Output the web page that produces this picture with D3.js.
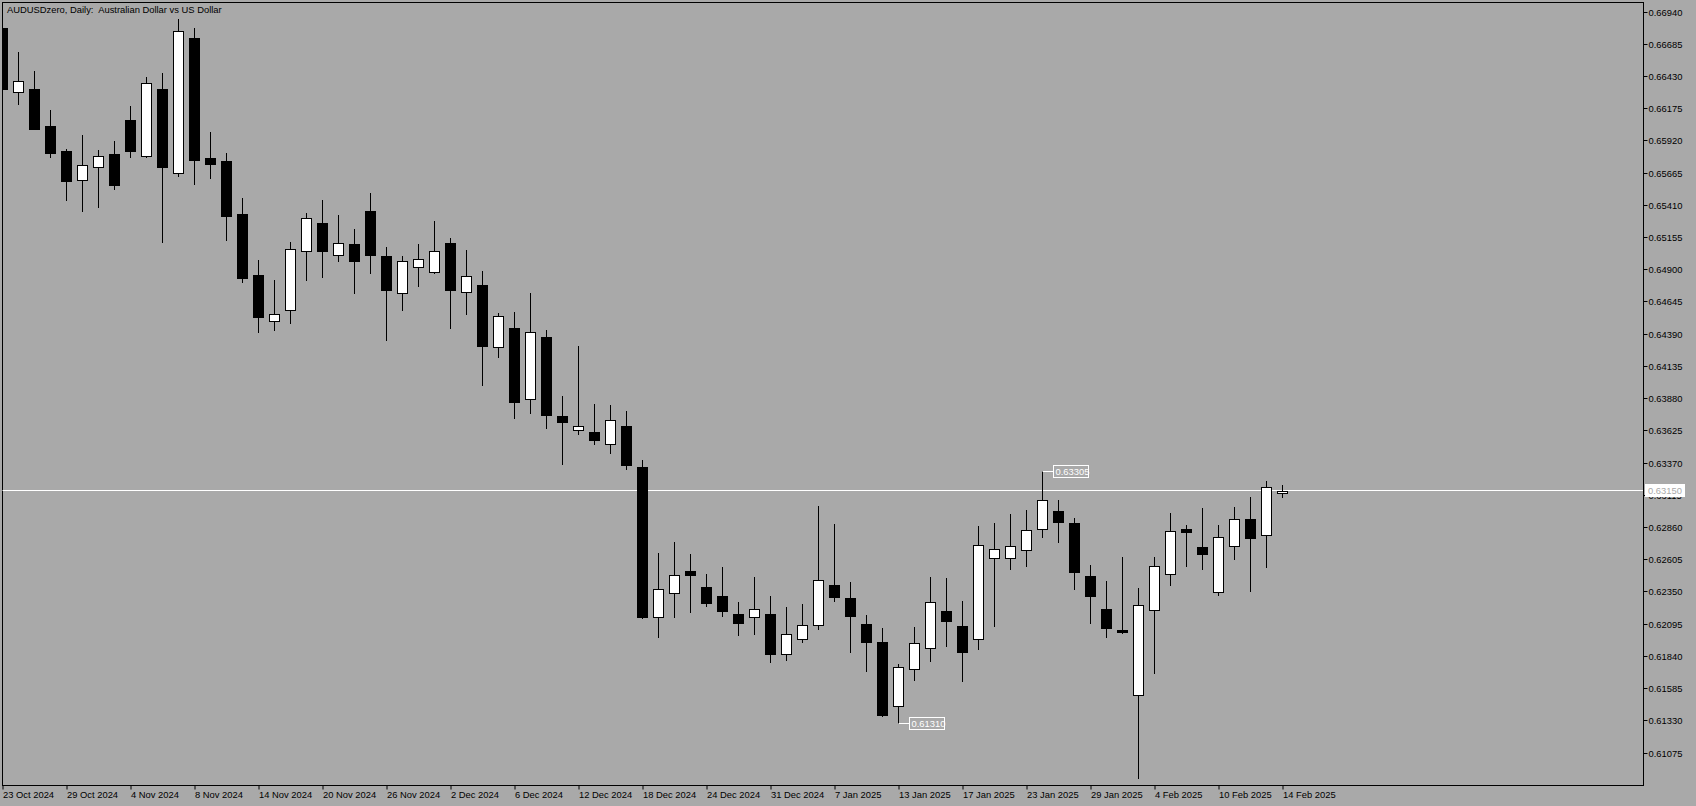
<!DOCTYPE html>
<html><head><meta charset="utf-8">
<script src="https://cdn.jsdelivr.net/npm/d3@7"></script>
<style>
html,body{margin:0;padding:0;background:#a9a9a9;overflow:hidden}
svg{display:block}
text{font-family:"Liberation Sans",Arial,sans-serif;font-size:9.4px}
</style></head><body>
<svg id="c" width="1696" height="806"></svg>
<script>
const dates = ["2024-10-23","2024-10-24","2024-10-25","2024-10-28","2024-10-29","2024-10-30","2024-10-31","2024-11-01","2024-11-04","2024-11-05","2024-11-06","2024-11-07","2024-11-08","2024-11-11","2024-11-12","2024-11-13","2024-11-14","2024-11-15","2024-11-18","2024-11-19","2024-11-20","2024-11-21","2024-11-22","2024-11-25","2024-11-26","2024-11-27","2024-11-28","2024-11-29","2024-12-02","2024-12-03","2024-12-04","2024-12-05","2024-12-06","2024-12-09","2024-12-10","2024-12-11","2024-12-12","2024-12-13","2024-12-16","2024-12-17","2024-12-18","2024-12-19","2024-12-20","2024-12-23","2024-12-24","2024-12-26","2024-12-27","2024-12-30","2024-12-31","2025-01-02","2025-01-03","2025-01-06","2025-01-07","2025-01-08","2025-01-09","2025-01-10","2025-01-13","2025-01-14","2025-01-15","2025-01-16","2025-01-17","2025-01-20","2025-01-21","2025-01-22","2025-01-23","2025-01-24","2025-01-27","2025-01-28","2025-01-29","2025-01-30","2025-01-31","2025-02-03","2025-02-04","2025-02-05","2025-02-06","2025-02-07","2025-02-10","2025-02-11","2025-02-12","2025-02-13","2025-02-14"];

const open  = [0.66811,0.66305,0.66331,0.66038,0.65840,0.65609,0.65711,0.65817,0.66086,0.65798,0.66331,0.65669,0.66734,0.65783,0.65761,0.65342,0.64859,0.64493,0.64580,0.65047,0.65271,0.65015,0.65105,0.65366,0.65010,0.64713,0.64920,0.64885,0.65113,0.64722,0.64780,0.64287,0.64440,0.63876,0.64369,0.63744,0.63631,0.63617,0.63518,0.63665,0.63340,0.62148,0.62341,0.62518,0.62391,0.62320,0.62177,0.62148,0.62177,0.61857,0.61977,0.62088,0.62404,0.62304,0.62098,0.61956,0.61447,0.61737,0.61906,0.62201,0.62082,0.61974,0.62615,0.62615,0.62681,0.62847,0.62992,0.62897,0.62478,0.62217,0.62051,0.61534,0.62203,0.62491,0.62847,0.62705,0.62349,0.62713,0.62929,0.62800,0.63132];
const high  = [0.66829,0.66624,0.66473,0.66165,0.65856,0.65967,0.65848,0.65919,0.66196,0.66426,0.66457,0.66885,0.66813,0.65991,0.65822,0.65469,0.64978,0.64820,0.65120,0.65350,0.65453,0.65334,0.65223,0.65510,0.65081,0.65010,0.65105,0.65287,0.65152,0.65057,0.64891,0.64556,0.64567,0.64717,0.64424,0.63902,0.64298,0.63839,0.63831,0.63783,0.63396,0.62660,0.62745,0.62654,0.62494,0.62549,0.62267,0.62470,0.62320,0.62233,0.62257,0.63032,0.62889,0.62431,0.62169,0.62067,0.61782,0.62075,0.62470,0.62462,0.62280,0.62874,0.62897,0.62963,0.63000,0.63305,0.63079,0.62934,0.62563,0.62438,0.62628,0.62383,0.62628,0.62976,0.62882,0.63016,0.62882,0.63024,0.63103,0.63230,0.63198];
const low   = [0.66307,0.66215,0.66010,0.65795,0.65453,0.65368,0.65400,0.65542,0.65795,0.65790,0.65123,0.65645,0.65582,0.65629,0.65139,0.64806,0.64411,0.64424,0.64482,0.64822,0.64846,0.64972,0.64719,0.64878,0.64340,0.64585,0.64775,0.64878,0.64435,0.64553,0.63989,0.64213,0.63730,0.63770,0.63651,0.63366,0.63596,0.63517,0.63453,0.63321,0.62140,0.61990,0.62148,0.62188,0.62235,0.62156,0.62006,0.62014,0.61792,0.61808,0.61950,0.62056,0.62275,0.61871,0.61721,0.61370,0.61310,0.61655,0.61806,0.61919,0.61642,0.61895,0.62077,0.62528,0.62552,0.62783,0.62749,0.62370,0.62101,0.61990,0.62022,0.60878,0.61705,0.62401,0.62552,0.62528,0.62322,0.62607,0.62354,0.62544,0.63105];
const close = [0.66333,0.66394,0.66017,0.65827,0.65605,0.65730,0.65798,0.65574,0.65843,0.66376,0.65716,0.66787,0.65772,0.65740,0.65328,0.64838,0.64529,0.64551,0.65065,0.65308,0.65052,0.65110,0.64972,0.65020,0.64743,0.64968,0.64986,0.65049,0.64743,0.64851,0.64300,0.64535,0.63857,0.64406,0.63754,0.63691,0.63662,0.63556,0.63711,0.63351,0.62148,0.62373,0.62484,0.62480,0.62259,0.62196,0.62101,0.62215,0.61855,0.62017,0.62088,0.62446,0.62309,0.62156,0.61950,0.61373,0.61756,0.61948,0.62270,0.62116,0.61871,0.62721,0.62689,0.62715,0.62840,0.63077,0.62900,0.62504,0.62314,0.62061,0.62035,0.62246,0.62555,0.62834,0.62821,0.62647,0.62784,0.62927,0.62773,0.63180,0.63150];

const yTicks = [0.66940,0.66685,0.66430,0.66175,0.65920,0.65665,0.65410,0.65155,0.64900,0.64645,0.64390,0.64135,0.63880,0.63625,0.63370,0.63115,0.62860,0.62605,0.62350,0.62095,0.61840,0.61585,0.61330,0.61075];
const xTickLabels = ["23 Oct 2024","29 Oct 2024","4 Nov 2024","8 Nov 2024","14 Nov 2024","20 Nov 2024","26 Nov 2024","2 Dec 2024","6 Dec 2024","12 Dec 2024","18 Dec 2024","24 Dec 2024","31 Dec 2024","7 Jan 2025","13 Jan 2025","17 Jan 2025","23 Jan 2025","29 Jan 2025","4 Feb 2025","10 Feb 2025","14 Feb 2025"];
const title = "AUDUSDzero, Daily:  Australian Dollar vs US Dollar";
const bidPrice = 0.63150;
// high/low price markers: [date, price, kind]
const markerDates  = ["2025-01-24", "2025-01-13"];
const markerPrices = [0.63305, 0.61310];

const svg = d3.select("#c");
const L = 2, T = 2, R = 1643, B = 785;
const parse = d3.timeParse("%Y-%m-%d");
const fmt = d3.timeFormat("%-d %b %Y");
const labelOf = dates.map(d => fmt(parse(d)));

const x = d3.scaleLinear().domain([0, dates.length - 1]).range([2.5, 2.5 + 16 * (dates.length - 1)]);
const y = d3.scaleLinear().domain([0.61075, 0.66940]).range([753, 12]);
const crisp = v => Math.floor(v) + 0.5;

svg.append("rect").attr("width", 1696).attr("height", 806).attr("fill", "#a9a9a9");

const defs = svg.append("defs");
defs.append("clipPath").attr("id", "clip").append("rect")
  .attr("x", L + 0.5).attr("y", T + 0.5).attr("width", R - L - 0.5).attr("height", B - T - 0.5);

// Y axis
const yAxis = d3.axisRight(y).tickValues(yTicks).tickSize(4).tickPadding(1).tickFormat(d3.format(".5f"));
const gy = svg.append("g").attr("transform", `translate(${R + 0.5},0)`).call(yAxis);
gy.select(".domain").remove();
gy.selectAll(".tick").attr("transform", d => `translate(0,${crisp(y(d))})`);
gy.selectAll(".tick line").attr("stroke", "#000");
gy.selectAll(".tick text").attr("fill", "#000").attr("font-family", "Liberation Sans, Arial, sans-serif").attr("font-size", "9.4px").attr("dy", "0.33em");

// X axis
const xIdx = xTickLabels.map(l => labelOf.indexOf(l));
const xAxis = d3.axisBottom(x).tickValues(xIdx).tickSize(4).tickPadding(0).tickFormat(i => labelOf[i]);
const gx = svg.append("g").attr("transform", `translate(0,${B + 0.5})`).call(xAxis);
gx.select(".domain").remove();
gx.selectAll(".tick line").attr("stroke", "#000");
gx.selectAll(".tick text").attr("fill", "#000").attr("text-anchor", "start").attr("x", 0)
  .attr("y", 12.5).attr("dy", 0).attr("font-family", "Liberation Sans, Arial, sans-serif").attr("font-size", "9.4px");

// frame
svg.append("rect").attr("x", L + 0.5).attr("y", T + 0.5).attr("width", R - L).attr("height", B - T)
  .attr("fill", "none").attr("stroke", "#000").attr("stroke-width", 1);

// title
svg.append("text").attr("x", 7).attr("y", 13).attr("fill", "#000").style("white-space", "pre").attr("xml:space", "preserve").text(title);

const plot = svg.append("g").attr("clip-path", "url(#clip)");

// bid line
const by = crisp(y(bidPrice));
plot.append("line").attr("x1", L).attr("x2", R).attr("y1", by).attr("y2", by).attr("stroke", "#fff").attr("stroke-width", 1);

// candles
const data = dates.map((d, i) => ({ i, o: open[i], h: high[i], l: low[i], c: close[i] }));
const g = plot.selectAll("g.c").data(data).join("g").attr("class", "c");
g.append("line")
  .attr("x1", d => x(d.i)).attr("x2", d => x(d.i))
  .attr("y1", d => Math.round(y(d.h))).attr("y2", d => Math.round(y(d.l)) + 1)
  .attr("stroke", "#000").attr("stroke-width", 1);
g.append("rect")
  .attr("x", d => x(d.i) - 5).attr("width", 10)
  .attr("y", d => Math.round(y(Math.max(d.o, d.c))) + 0.5)
  .attr("height", d => Math.max(1, Math.round(y(Math.min(d.o, d.c))) - Math.round(y(Math.max(d.o, d.c)))))
  .attr("fill", d => d.c >= d.o ? "#fff" : "#000")
  .attr("stroke", "#000").attr("stroke-width", 1);

// high / low labels
function hlLabel(idx, price) {
  const px = x(idx), py = crisp(y(price));
  const lbl = d3.format(".5f")(price);
  svg.append("line").attr("x1", px).attr("x2", px + 11).attr("y1", py).attr("y2", py).attr("stroke", "#fff");
  const bx = Math.floor(px + 11) + 0.5;
  svg.append("rect").attr("x", bx).attr("y", py - 6).attr("width", 35).attr("height", 12)
    .attr("fill", "none").attr("stroke", "#fff");
  svg.append("text").attr("x", bx + 2).attr("y", py + 3.5).attr("fill", "#fff").text(lbl);
}
markerDates.forEach((d, k) => hlLabel(dates.indexOf(d), markerPrices[k]));

// bid label on axis
svg.append("rect").attr("x", 1645).attr("y", by - 6.5).attr("width", 40).attr("height", 13).attr("fill", "#fff");
svg.append("text").attr("x", 1648).attr("y", by + 3.5).attr("fill", "#a9a9a9").text(d3.format(".5f")(bidPrice));
</script>
</body></html>
